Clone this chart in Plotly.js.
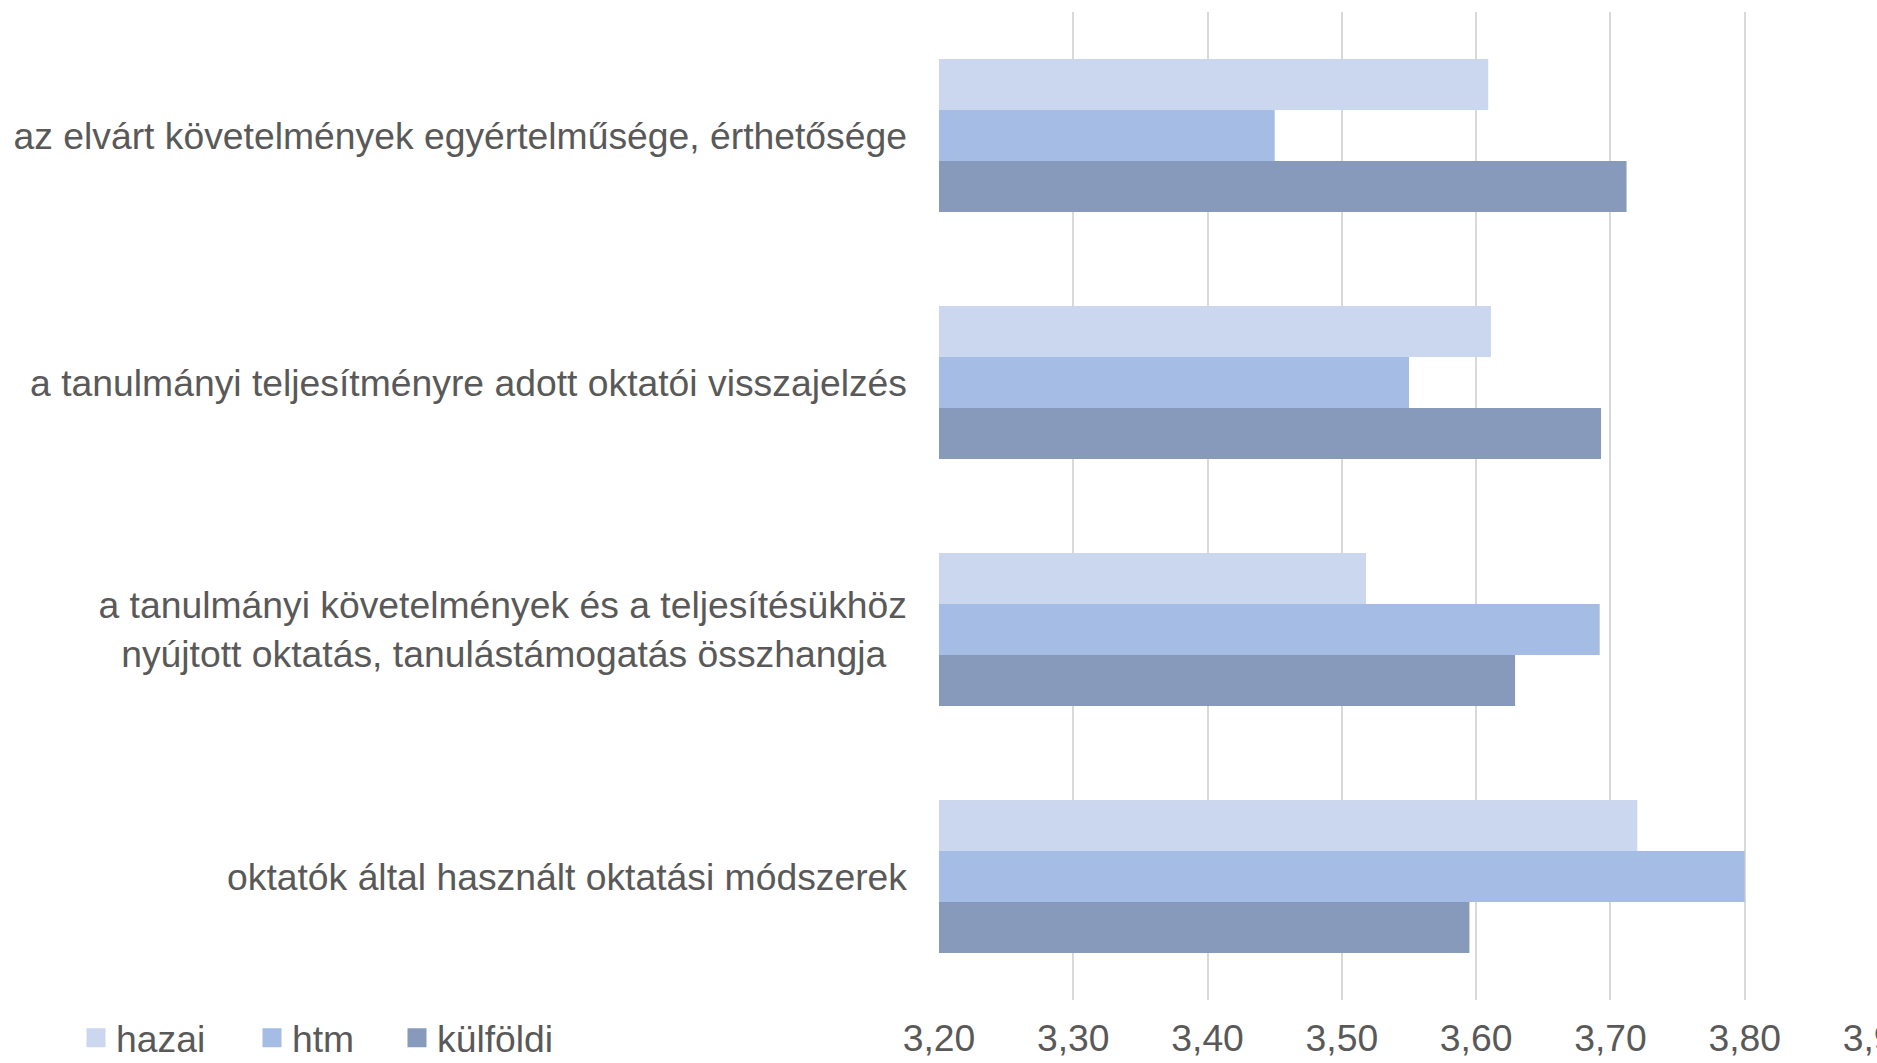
<!DOCTYPE html>
<html>
<head>
<meta charset="utf-8">
<script src="https://cdn.plot.ly/plotly-3.0.1.min.js"></script>
<style>
  html, body { margin: 0; padding: 0; overflow: hidden; background: #ffffff; }
  #chart { width: 1960px; height: 1063px; }
</style>
</head>
<body>
<div id="chart"></div>
<script>
// ---- data ----
const categories = [
  'az elvárt követelmények egyértelműsége, érthetősége',
  'a tanulmányi teljesítményre adott oktatói visszajelzés',
  'a tanulmányi követelmények és a teljesítésükhöz<br>nyújtott oktatás, tanulástámogatás összhangja\u00a0\u00a0',
  'oktatók által használt oktatási módszerek'
];
const seriesNames = ['hazai', 'htm', 'külföldi'];
const hazai    = [3.609, 3.611, 3.518, 3.720];
const htm      = [3.450, 3.550, 3.692, 3.800];
const kulfoldi = [3.712, 3.693, 3.629, 3.595];
const xTickVals = [3.2, 3.3, 3.4, 3.5, 3.6, 3.7, 3.8, 3.9];
const xTickText = ['3,20', '3,30', '3,40', '3,50', '3,60', '3,70', '3,80', '3,90'];

// ---- styles ----
const W = 1960;
const colors = ['#cbd7ee', '#a5bce4', '#879abb'];
const legendIds = ['legend', 'legend2', 'legend3'];
const textColor = '#595959';
const fontFamily = 'Liberation Sans, Arial, sans-serif';
const fs = 37.3;

const seriesValues = [hazai, htm, kulfoldi];
const traces = [];
seriesValues.forEach((vals, i) => {
  traces.push({
    type: 'bar',
    orientation: 'h',
    name: seriesNames[i],
    y: categories,
    x: vals,
    marker: { color: colors[i], line: { width: 0 } },
    legendgroup: seriesNames[i],
    showlegend: false,
    hoverinfo: 'x+name'
  });
});
// legend entries (square swatches)
seriesNames.forEach((n, i) => {
  traces.push({
    type: 'scatter',
    mode: 'markers',
    name: n,
    x: [null],
    y: [null],
    marker: { symbol: 'square', size: 16, color: colors[i], line: { width: 3, color: colors[i] } },
    legendgroup: n,
    legend: legendIds[i],
    showlegend: true
  });
});

function legendAt(xpx) {
  return {
    x: xpx / W, xref: 'container', xanchor: 'left',
    y: 1 - 1038 / 1063, yref: 'container', yanchor: 'middle',
    orientation: 'h',
    bgcolor: 'rgba(0,0,0,0)',
    font: { family: fontFamily, size: fs, color: textColor }
  };
}

const layout = {
  width: W,
  height: 1063,
  margin: { l: 938.6, r: W - 1879, t: 11.7, b: 62.5 },
  paper_bgcolor: '#ffffff',
  plot_bgcolor: '#ffffff',
  font: { family: fontFamily, size: fs, color: textColor },
  barmode: 'group',
  bargap: 0.38,
  bargroupgap: 0,
  xaxis: {
    range: [3.2, 3.9],
    tickvals: xTickVals,
    ticktext: xTickText,
    showgrid: true,
    gridcolor: '#d9d9d9',
    gridwidth: 1.5,
    zeroline: false,
    showline: false,
    ticks: '',
    ticklabelstandoff: 13,
    tickfont: { family: fontFamily, size: fs, color: textColor },
    fixedrange: true
  },
  yaxis: {
    type: 'category',
    autorange: 'reversed',
    showgrid: false,
    zeroline: false,
    showline: false,
    ticks: '',
    ticklabelstandoff: 31,
    tickfont: { family: fontFamily, size: fs, color: textColor },
    fixedrange: true
  },
  legend: legendAt(76),
  legend2: legendAt(252),
  legend3: legendAt(397),
  showlegend: true
};

Plotly.newPlot('chart', traces, layout, { displayModeBar: false, responsive: false });
</script>
</body>
</html>
